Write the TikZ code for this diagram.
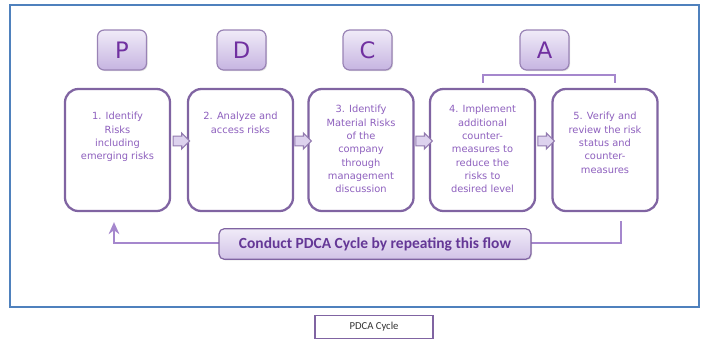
\documentclass[tikz,border=0pt]{standalone}
\usepackage{fontspec}
\setmainfont{DejaVu Sans}
\newfontfamily\calibrifont{Carlito}
\usetikzlibrary{calc,shapes.arrows,shadows,arrows.meta}

\definecolor{frameblue}{RGB}{79,129,189}
\definecolor{cardpurple}{RGB}{128,100,162}
\definecolor{cardtext}{RGB}{142,96,190}
\definecolor{letterpurple}{RGB}{112,48,160}
\definecolor{lavtop}{RGB}{240,235,248}
\definecolor{lavbottom}{RGB}{198,180,225}
\definecolor{loopline}{RGB}{165,135,205}
\definecolor{bandtext}{RGB}{100,55,150}

\tikzset{every picture/.style={line width=0.75pt}}
\tikzset{
  stepcard/.style={draw=cardpurple, line width=1.7pt, rounded corners=10pt, fill=white,
    minimum width=78.75pt, minimum height=91.5pt, inner sep=0pt},
  steptext/.style={anchor=north, inner sep=0pt, align=center, text=cardtext,
    font=\fontsize{7.4pt}{10pt}\selectfont},
  phasebox/.style={draw=cardpurple!80, line width=0.9pt, rounded corners=5pt,
    top color=lavtop, bottom color=lavbottom, minimum width=36.75pt, minimum height=30pt,
    text=letterpurple, font=\fontsize{17pt}{17pt}\selectfont,
    drop shadow={shadow xshift=0.8pt, shadow yshift=-0.8pt, opacity=0.25}},
  flowarrow/.style={single arrow, draw=cardpurple!85, line width=0.8pt, fill=lavtop!55!lavbottom,
    minimum height=12.5pt, inner xsep=0pt, inner ysep=3.2pt, single arrow head extend=2.4pt},
  loopband/.style={draw=cardpurple, line width=0.9pt, rounded corners=4pt,
    top color=lavtop, bottom color=lavbottom!80, minimum width=234pt, minimum height=23pt,
    text=bandtext, font=\calibrifont\bfseries\fontsize{11.6pt}{13pt}\selectfont,
    drop shadow={shadow xshift=0.8pt, shadow yshift=-0.8pt, opacity=0.25}},
}

\begin{document}
\begin{tikzpicture}[x=0.75pt,y=0.75pt,yscale=-1,xscale=1]
\useasboundingbox (0,0) rectangle (701,340);

%Shape: Rectangle (outer frame)
\draw [frameblue, line width=1.5pt] (10,5) rectangle (699,307);

%Rounded Rect (steps)
\node [stepcard] (b1) at (117.5,150) {};
\node [stepcard] (b2) at (240.5,150) {};
\node [stepcard] (b3) at (361,150) {};
\node [stepcard] (b4) at (482.5,150) {};
\node [stepcard] (b5) at (605,150) {};

% Text Node
\node [steptext] (t1) at ($(b1.north)+(0,24)$) {1. Identify\\Risks\\including\\emerging risks};
\node [steptext] (t2) at ($(b2.north)+(0,24)$) {2. Analyze and\\access risks};
\node [steptext] (t3) at ($(b3.north)+(0,17)$) {3. Identify\\Material Risks\\of the\\company\\through\\management\\discussion};
\node [steptext] (t4) at ($(b4.north)+(0,17)$) {4. Implement\\additional\\counter-\\measures to\\reduce the\\risks to\\desired level};
\node [steptext] (t5) at ($(b5.north)+(0,24)$) {5. Verify and\\review the risk\\status and\\counter-\\measures};

%Block arrows between steps
\node [flowarrow] (a12) at ($(b1.east)!0.5!(b2.west)+(0,-9)$) {};
\node [flowarrow] (a23) at ($(b2.east)!0.5!(b3.west)+(0,-9)$) {};
\node [flowarrow] (a34) at ($(b3.east)!0.5!(b4.west)+(0,-9)$) {};
\node [flowarrow] (a45) at ($(b4.east)!0.5!(b5.west)+(0,-9)$) {};

%Phase boxes
\node [phasebox] (p) at (122,50) {P};
\node [phasebox] (d) at (241.5,50) {D};
\node [phasebox] (c) at (367.5,50) {C};
\node [phasebox] (a) at (544.5,50) {A};

%Bracket under A
\draw [loopline, line width=1.5pt] ($(b4.north)+(0,-5)$) -- ($(b4.north)+(0,-13)$) -- ($(b5.north)+(10,-13)$) -- ($(b5.north)+(10,-5)$);

%Loop back line
\coordinate (loopR) at (621,243);
\coordinate (loopL) at (114,243);
\draw [loopline, line width=1.2pt, -{Stealth[length=9pt,width=8pt]}, shorten <=9pt*0.75, shorten >=10pt*0.75]
  (b5.south -| loopR) -- (loopR) -- (loopL) -- (b1.south -| loopL);

% Text Node
\node [loopband] (cycle) at (375,244) {Conduct PDCA Cycle by repeating this flow};

%Caption
\node [draw=cardpurple, line width=1pt, minimum width=88.5pt, minimum height=17.5pt,
  text=black!80, font=\calibrifont\fontsize{8pt}{9pt}\selectfont] (caption) at (374,327) {PDCA Cycle};
\end{tikzpicture}
\end{document}
